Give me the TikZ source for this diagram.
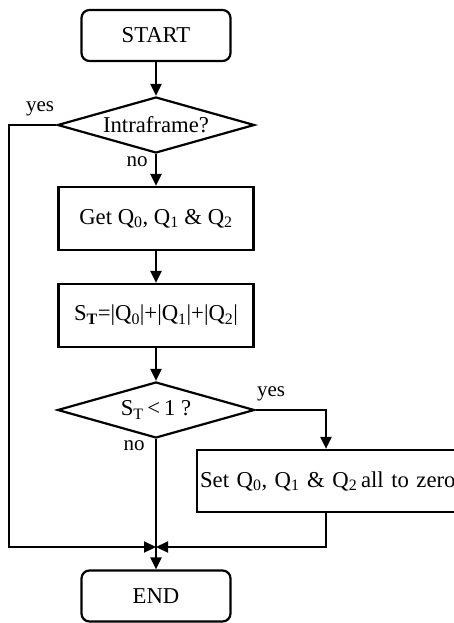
\documentclass[tikz,border=0pt]{standalone}
\usepackage{fontspec}
\setmainfont{Liberation Serif}
\usetikzlibrary{shapes.geometric,arrows.meta,calc}
\tikzset{
  termbox/.style={draw, line width=2.2pt, rounded corners=8pt, minimum width=149pt, minimum height=51pt, inner sep=0pt},
  procbox/.style={draw, line width=2.2pt, minimum width=195pt, minimum height=63pt, inner sep=0pt},
  decbox/.style={draw, line width=2.2pt, diamond, aspect=3.5, minimum width=197pt, minimum height=56pt, inner sep=0pt},
  conn/.style={line width=2.2pt, -{Triangle[length=12pt,width=11pt]}},
  lbl/.style={inner sep=0pt, font=\fontsize{21}{25}\selectfont},
}
\begin{document}
\begin{tikzpicture}[x=1pt,y=-1pt,font=\fontsize{22.7}{27}\selectfont]
\useasboundingbox (0,0) rectangle (454,623);
\node[termbox] (start) at (156,35.5) {START};
\node[decbox] (d1) at (156,125) {Intraframe?};
\node[procbox] (get) at (156,218.5) {Get Q\textsubscript{0}, Q\textsubscript{1} \& Q\textsubscript{2}};
\node[procbox] (sum) at (156,315.5) {S\textsubscript{\textbf{T}}=|Q\textsubscript{0}|+|Q\textsubscript{1}|+|Q\textsubscript{2}|};
\node[decbox] (d2) at (156,410) {S\textsubscript{T}\,<\,1 ?};
\node[draw, line width=2.2pt, minimum height=62pt, text width=258pt, inner xsep=3pt, inner ysep=0pt, align=left, anchor=west] (set) at (196,481) {Set Q\textsubscript{0}, Q\textsubscript{1} \& Q\textsubscript{2}\,all to zero};
\node[termbox] (end) at (156,596) {END};
\coordinate (j) at (156,547);
\coordinate (lc) at (9,547);
\coordinate (tl) at (9,125);
\coordinate (sx) at (326,481);
\node[lbl] (yes1) at (40,109) {yes};
\node[lbl] (no1) at (137,162) {no};
\node[lbl] (yes2) at (271,394) {yes};
\node[lbl] (no2) at (134,446) {no};
\draw[conn] (start) -- (d1);
\draw[conn] (d1) -- (get);
\draw[conn] (get) -- (sum);
\draw[conn] (sum) -- (d2);
\draw[conn] (d2.south) -- (end.north);
\draw[conn] (d2.east) -| (set.north -| sx);
\draw[conn] (d1.west) -- (tl) -- (lc) -- (j);
\draw[conn] (set.south -| sx) |- (j);
\end{tikzpicture}
\end{document}
